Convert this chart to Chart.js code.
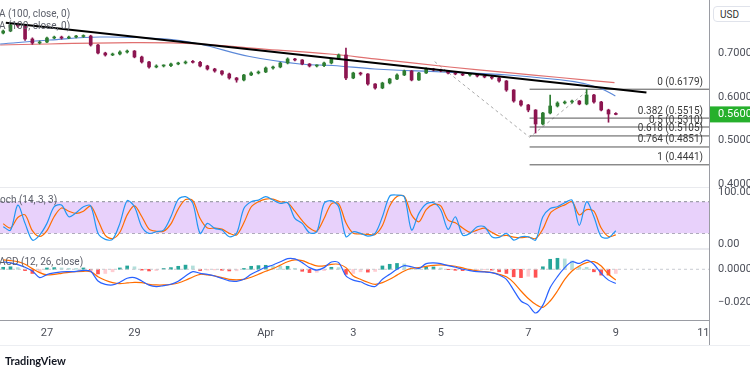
<!DOCTYPE html>
<html>
<head>
<meta charset="utf-8">
<script src="https://cdn.jsdelivr.net/npm/chart.js@4.4.1/dist/chart.umd.min.js"></script>
<style>
  html, body { margin: 0; padding: 0; background: #fff; overflow: hidden; }
  body { width: 750px; height: 375px; position: relative; font-family: Roboto, sans-serif; }
  #wrap { position: absolute; left: 0; top: 0; width: 765px; height: 375px; }
  .leg { position: absolute; font-size: 10px; line-height: 12px; color: #5d606b; white-space: nowrap; }
  .axl { position: absolute; left: 718px; font-size: 11px; line-height: 13px; color: #4c4f59; white-space: nowrap; }
  #usd { position: absolute; left: 713px; top: 6px; width: 44px; height: 16px; border: 1px solid #e0e3eb;
         border-radius: 4px; font-size: 10px; line-height: 16px; color: #333; padding-left: 6px; box-sizing: border-box; background: #fff; }
  #tv { position: absolute; left: 5px; top: 354px; font-family: Lato, Roboto, sans-serif; font-weight: bold;
        font-size: 11px; color: #131722; white-space: nowrap; }
</style>
</head>
<body>
<div id="wrap"><canvas id="myChart"></canvas></div>
<div class="leg" style="left:-1px; top:8px;">A (100, close, 0)</div>
<div class="leg" style="left:-1px; top:20px;">A (100, close, 0)</div>
<div class="leg" style="left:0px; top:194px;">och (14, 3, 3)</div>
<div class="leg" style="left:-1px; top:256px;">ACD (12, 26, close)</div>
<div class="axl" id="stochTop" style="top:185px;">100.00</div>
<div id="usd">USD</div>
<div id="tv">TradingView</div>
<script>
// price candles, 4h steps starting Mar 26
const firstOpen = 0.7470;
const closes = [
    0.7517, 0.7655, 0.7632, 0.7333, 0.7241, 0.7264, 0.7356, 0.7379, 0.7356, 0.7379,
    0.7391, 0.7402, 0.7195, 0.7011, 0.6966, 0.6989, 0.7034, 0.7057, 0.6920, 0.6805,
    0.6690, 0.6713, 0.6720, 0.6759, 0.6782, 0.6805, 0.6798, 0.6713, 0.6644, 0.6598,
    0.6529, 0.6437, 0.6391, 0.6506, 0.6552, 0.6575, 0.6667, 0.6690, 0.6782, 0.6874,
    0.6851, 0.6759, 0.6713, 0.6720, 0.6782, 0.6874, 0.6966, 0.6437, 0.6552, 0.6529,
    0.6299, 0.6207, 0.6322, 0.6414, 0.6506, 0.6598, 0.6391, 0.6552, 0.6644, 0.6621,
    0.6598, 0.6552, 0.6529, 0.6506, 0.6512, 0.6483, 0.6460, 0.6437, 0.6368, 0.6161,
    0.5908, 0.5816, 0.5701, 0.5379, 0.5632, 0.5793, 0.5862, 0.5885, 0.5908, 0.5839,
    0.6046, 0.5885, 0.5701, 0.5609, 0.5600
];
const highs = [
    0.7540, 0.7690, 0.7700, 0.7650, 0.7360, 0.7290, 0.7380, 0.7400, 0.7400, 0.7400,
    0.7420, 0.7430, 0.7420, 0.7210, 0.7030, 0.7010, 0.7060, 0.7080, 0.7070, 0.6940,
    0.6820, 0.6740, 0.6740, 0.6780, 0.6800, 0.6830, 0.6840, 0.6820, 0.6730, 0.6660,
    0.6610, 0.6550, 0.6450, 0.6520, 0.6580, 0.6600, 0.6690, 0.6710, 0.6800, 0.6900,
    0.6890, 0.6860, 0.6770, 0.6740, 0.6800, 0.6890, 0.6990, 0.7126, 0.6570, 0.6570,
    0.6540, 0.6310, 0.6340, 0.6430, 0.6530, 0.6620, 0.6610, 0.6570, 0.6670, 0.6660,
    0.6640, 0.6610, 0.6570, 0.6550, 0.6530, 0.6520, 0.6500, 0.6480, 0.6450, 0.6380,
    0.6170, 0.5930, 0.5830, 0.5710, 0.5650, 0.6046, 0.5890, 0.5910, 0.5930, 0.5920,
    0.6179, 0.6060, 0.5900, 0.5720, 0.5640
];
const lows = [
    0.7450, 0.7500, 0.7600, 0.7300, 0.7210, 0.7220, 0.7250, 0.7340, 0.7330, 0.7340,
    0.7360, 0.7370, 0.7170, 0.6990, 0.6940, 0.6950, 0.6970, 0.7010, 0.6900, 0.6780,
    0.6660, 0.6670, 0.6690, 0.6700, 0.6740, 0.6760, 0.6780, 0.6690, 0.6620, 0.6570,
    0.6500, 0.6410, 0.6340, 0.6370, 0.6490, 0.6530, 0.6560, 0.6640, 0.6670, 0.6760,
    0.6830, 0.6740, 0.6690, 0.6690, 0.6700, 0.6760, 0.6860, 0.6400, 0.6420, 0.6500,
    0.6270, 0.6180, 0.6190, 0.6300, 0.6400, 0.6490, 0.6370, 0.6380, 0.6540, 0.6600,
    0.6580, 0.6530, 0.6510, 0.6490, 0.6480, 0.6460, 0.6440, 0.6410, 0.6340, 0.6130,
    0.5880, 0.5790, 0.5660, 0.5172, 0.5360, 0.5610, 0.5770, 0.5840, 0.5860, 0.5820,
    0.5820, 0.5860, 0.5680, 0.5420, 0.5590
];

// moving averages (days since Mar 26)
const ma100Days = [-0.07, 1.07, 2.21, 3.74, 4.49, 5.63, 6.78, 7.53, 8.49, 10.02, 11.53, 13.05, 13.63, 13.99];
const ma100 = [0.7218, 0.7310, 0.7379, 0.7333, 0.7218, 0.6931, 0.6759, 0.6724, 0.6644, 0.6575, 0.6506, 0.6352, 0.6207, 0.6023];
const ma200Days = [-0.07, 2.96, 4.49, 6.02, 7.46, 8.49, 10.2, 11.53, 12.71, 13.97];
const ma200 = [0.7195, 0.7248, 0.7218, 0.7096, 0.6989, 0.6878, 0.6690, 0.6561, 0.6448, 0.6329];

// drawings
const trendDays = [0.06, 14.70];
const trendPrices = [0.7708, 0.6103];
const fibPivotDays = [9.86, 12.03, 13.40];
const fibPivotPrices = [0.6813, 0.5075, 0.6179];
const fibRatios = [0, 0.382, 0.5, 0.618, 0.764, 1];
const fibPrices = [0.6179, 0.5515, 0.5310, 0.5105, 0.4851, 0.4441];

// Stoch (14, 3, 3)
const stochK = [
    32.5, 26, 73.6, 38.9, 7.2, 16.7, 38.9, 70.5, 73.6, 51.5,
    59.1, 70.5, 72, 20, 8.5, 8.5, 38.9, 81.9, 70.5, 32.5,
    19.9, 23, 26.2, 51.5, 84.4, 89.5, 76.8, 19.9, 38.9, 29.4,
    26.2, 13.6, 19.9, 67.3, 80, 83.1, 89.5, 83.1, 76.8, 78,
    48.3, 38.9, 21.1, 23, 76.8, 81.9, 70.5, 13.6, 23, 19.9,
    14.8, 19.9, 51.5, 90.7, 92.6, 89.5, 26.2, 57.8, 75.5, 78,
    64.2, 27.5, 51.5, 16.7, 19.9, 32.5, 32.5, 13.6, 12.3, 19.9,
    7.2, 13.6, 13.6, 7.2, 51.5, 67.3, 70.5, 78, 83.1, 35,
    80, 51.5, 13.6, 11.7, 25
];
const stochD = [
    38, 30, 50, 55, 25, 14, 25, 52, 68, 62,
    58, 62, 72, 45, 16, 10, 22, 55, 72, 52,
    28, 24, 24, 38, 66, 84, 82, 48, 30, 30,
    28, 20, 17, 40, 70, 80, 85, 85, 80, 78,
    62, 44, 30, 24, 48, 76, 76, 40, 20, 19,
    18, 18, 35, 72, 90, 90, 55, 42, 65, 75,
    72, 45, 40, 30, 22, 26, 30, 22, 15, 16,
    13, 12, 13, 10, 28, 58, 68, 74, 80, 55,
    65, 62, 30, 14, 17
];
const stochBand = [80, 20];

// MACD (12, 26, close)
const macdLine = [
    0.0045, 0.0038, 0.0028, 0.0012, -0.0010, -0.0050, -0.0032, -0.0022, -0.0016, -0.0014,
    -0.0012, -0.0006, -0.0012, -0.0070, -0.0090, -0.0094, -0.0078, -0.0054, -0.0050, -0.0070,
    -0.0095, -0.0104, -0.0098, -0.0090, -0.0072, -0.0040, -0.0014, -0.0024, -0.0030, -0.0040,
    -0.0055, -0.0070, -0.0072, -0.0060, -0.0030, -0.0008, 0.0012, 0.0026, 0.0045, 0.0064,
    0.0062, 0.0040, 0.0010, -0.0005, 0.0010, 0.0044, 0.0040, -0.0040, -0.0065, -0.0075,
    -0.0095, -0.0103, -0.0060, -0.0030, 0.0000, 0.0022, 0.0015, 0.0005, 0.0034, 0.0038,
    0.0034, 0.0022, 0.0012, 0.0000, -0.0008, -0.0014, -0.0016, -0.0020, -0.0034, -0.0060,
    -0.0125, -0.0190, -0.0215, -0.0262, -0.0215, -0.0110, -0.0044, 0.0010, 0.0045, 0.0035,
    0.0055, 0.0030, -0.0025, -0.0065, -0.0085
];
const macdSignal = [
    0.0056, 0.0052, 0.0046, 0.0030, 0.0004, -0.0020, -0.0034, -0.0030, -0.0024, -0.0018,
    -0.0014, -0.0012, -0.0014, -0.0045, -0.0066, -0.0080, -0.0086, -0.0082, -0.0078, -0.0080,
    -0.0090, -0.0094, -0.0094, -0.0090, -0.0082, -0.0066, -0.0046, -0.0030, -0.0034, -0.0040,
    -0.0050, -0.0060, -0.0063, -0.0060, -0.0048, -0.0030, -0.0012, 0.0005, 0.0025, 0.0045,
    0.0056, 0.0052, 0.0035, 0.0020, 0.0020, 0.0030, 0.0030, 0.0010, -0.0040, -0.0060,
    -0.0078, -0.0090, -0.0080, -0.0060, -0.0035, -0.0010, 0.0006, 0.0010, 0.0018, 0.0024,
    0.0026, 0.0024, 0.0018, 0.0008, -0.0002, -0.0010, -0.0014, -0.0020, -0.0030, -0.0045,
    -0.0080, -0.0130, -0.0175, -0.0210, -0.0228, -0.0190, -0.0130, -0.0060, -0.0010, 0.0020,
    0.0040, 0.0046, 0.0020, -0.0030, -0.0064
];
const macdHist = [
    0.0012, 0.0015, 0.0010, -0.0008, -0.0025, -0.0020, 0.0008, 0.0010, 0.0008, 0.0006,
    0.0005, 0.0008, -0.0005, -0.0028, -0.0025, -0.0015, 0.0008, 0.0020, 0.0015, -0.0005,
    -0.0010, -0.0008, 0.0005, 0.0010, 0.0018, 0.0025, 0.0020, -0.0008, -0.0005, -0.0004,
    -0.0006, -0.0010, -0.0009, 0.0005, 0.0018, 0.0022, 0.0024, 0.0020, 0.0018, 0.0018,
    0.0006, -0.0012, -0.0020, -0.0018, -0.0008, 0.0012, 0.0010, -0.0030, -0.0025, -0.0015,
    -0.0017, -0.0013, 0.0020, 0.0030, 0.0035, 0.0032, 0.0009, 0.0006, 0.0014, 0.0014,
    0.0008, -0.0002, -0.0006, -0.0008, -0.0006, -0.0004, -0.0002, -0.0005, -0.0015, -0.0025,
    -0.0045, -0.0050, -0.0042, -0.0048, 0.0015, 0.0060, 0.0066, 0.0062, 0.0050, 0.0015,
    0.0012, -0.0015, -0.0035, -0.0035, -0.0025
];

// axis ticks
const dayTicks = [1, 3, 6, 8, 10, 12, 14, 16];
const dayLabels = ["27", "29", "Apr", "3", "5", "7", "9", "11"];
const priceTicks = [0.7, 0.6, 0.5, 0.4];
const stochTicks = [0, 100];
const macdTicks = [-0.02, 0];

const X_MIN = -0.073, X_MAX = 16.13;
const candleDays = closes.map((_, i) => i / 6);
const opens = closes.map((c, i) => (i === 0 ? firstOpen : closes[i - 1]));
const UP = "#2e7d32", DOWN = "#8c1550";
const candleColors = closes.map((c, i) => (c >= opens[i] ? UP : DOWN));
const histColors = macdHist.map((h, i) => {
    const prev = i ? macdHist[i - 1] : 0;
    if (h >= 0) return h >= prev ? "#26a69a" : "#b2dfdb";
    return h <= prev ? "#ff5252" : "#ffcdd2";
});

const pts = (xs, ys) => xs.map((x, i) => ({ x: x, y: ys[i] }));
const flat = (y) => [{ x: X_MIN, y: y }, { x: X_MAX, y: y }];
const STOCH_TOP = stochTicks[stochTicks.length - 1];

Chart.defaults.font.family = "Roboto, sans-serif";
Chart.defaults.font.size = 11;
Chart.defaults.color = "#4c4f59";

const datasets = [
    { type: "line", data: pts(trendDays, trendPrices), yAxisID: "price", borderColor: "#000", borderWidth: 2 },
    { type: "bar", data: candleDays.map((d, i) => ({ x: d, y: [opens[i], closes[i]] })), yAxisID: "price",
      backgroundColor: candleColors, barThickness: 3, grouped: false, minBarLength: 1 },
    { type: "bar", data: candleDays.map((d, i) => ({ x: d, y: [lows[i], highs[i]] })), yAxisID: "price",
      backgroundColor: candleColors, barThickness: 1, grouped: false },
    { type: "line", data: pts(ma100Days, ma100), yAxisID: "price", borderColor: "#5b88d8", borderWidth: 1.2, tension: 0.4 },
    { type: "line", data: pts(ma200Days, ma200), yAxisID: "price", borderColor: "#e07070", borderWidth: 1.2, tension: 0.4 },
    ...fibPrices.map((p) => ({ type: "line", data: [{ x: fibPivotDays[1], y: p }, { x: X_MAX, y: p }], yAxisID: "price",
      borderColor: "#555", borderWidth: 1 })),
    { type: "line", data: pts(fibPivotDays, fibPivotPrices), yAxisID: "price", borderColor: "#aaa", borderWidth: 1,
      borderDash: [3, 3] },
    { type: "line", data: pts(candleDays, macdLine), yAxisID: "macd", borderColor: "#2962ff", borderWidth: 1.2, tension: 0.3 },
    { type: "line", data: pts(candleDays, macdSignal), yAxisID: "macd", borderColor: "#ff6d00", borderWidth: 1.2, tension: 0.3 },
    { type: "line", data: flat(0), yAxisID: "macd", borderColor: "#c9cbd1", borderWidth: 1, borderDash: [3, 3] },
    { type: "bar", data: pts(candleDays, macdHist), yAxisID: "macd", backgroundColor: histColors, barThickness: 3, grouped: false },
    { type: "line", data: pts(candleDays, stochK), yAxisID: "stoch", borderColor: "#2196f3", borderWidth: 1.2, tension: 0.3 },
    { type: "line", data: pts(candleDays, stochD), yAxisID: "stoch", borderColor: "#ff6d00", borderWidth: 1.2, tension: 0.3 },
    { type: "line", data: flat(stochBand[0]), yAxisID: "stoch", borderColor: "#8a8d96", borderWidth: 1, borderDash: [3, 3],
      fill: "+1", backgroundColor: "#e8d1fb" },
    { type: "line", data: flat(stochBand[1]), yAxisID: "stoch", borderColor: "#8a8d96", borderWidth: 1, borderDash: [3, 3] },
];

const fixedTicks = (values) => (scale) => { scale.ticks = values.map((v) => ({ value: v })); };
const yAxis = (weight, min, max, values, fmt) => ({
    type: "linear", position: "right", stack: "panes", stackWeight: weight, min: min, max: max,
    afterBuildTicks: fixedTicks(values),
    afterFit: (s) => { s.width = 56; s.paddingTop = 0; s.paddingBottom = 0; },
    grid: { display: false, drawTicks: false }, border: { display: false },
    ticks: { padding: 9, autoSkip: false, callback: fmt },
});

const overlay = {
    id: "overlay",
    afterDraw(chart) {
        const ctx = chart.ctx, area = chart.chartArea, s = chart.scales;
        ctx.save();
        // fib level labels
        ctx.font = "10px Roboto, sans-serif";
        ctx.fillStyle = "#3a3a3a";
        ctx.textAlign = "right";
        ctx.textBaseline = "bottom";
        fibRatios.forEach((r, i) => {
            const y = s.price.getPixelForValue(fibPrices[i]);
            ctx.fillText(r + " (" + fibPrices[i].toFixed(4) + ")", area.right - 6, y - 2);
        });
        // keep the html "100.00" label on the stoch scale position
        const tag = document.getElementById("stochTop");
        tag.textContent = STOCH_TOP.toFixed(2);
        tag.style.top = Math.round(s.stoch.getPixelForValue(STOCH_TOP) - 6.5) + "px";
        tag.style.left = Math.round(area.right + 9) + "px";
        // pane separators
        ctx.fillStyle = "#e9eaee";
        ctx.fillRect(0, s.stoch.top - 1, area.right, 1);
        ctx.fillRect(0, s.macd.top - 1, area.right, 2);
        // frame
        ctx.fillStyle = "#9a9ca3";
        ctx.fillRect(0, area.bottom, area.right, 1);
        ctx.fillRect(area.right, 0, 1, s.x.bottom);
        ctx.fillStyle = "#eceef2";
        ctx.fillRect(0, s.x.bottom, 750, 1);
        // last price tag
        const last = closes[closes.length - 1];
        const py = s.price.getPixelForValue(last);
        ctx.fillStyle = "#26b02c";
        ctx.fillRect(area.right + 1, py - 8, 60, 16);
        ctx.fillStyle = "#fff";
        ctx.font = "11px Roboto, sans-serif";
        ctx.textAlign = "left";
        ctx.textBaseline = "middle";
        ctx.fillText(last.toFixed(4), area.right + 9, py);
        ctx.restore();
    },
};

new Chart(document.getElementById("myChart"), {
    type: "line",
    data: { datasets: datasets },
    options: {
        responsive: true,
        maintainAspectRatio: false,
        animation: false,
        layout: { padding: { left: 0, right: 0, top: 0, bottom: 30 } },
        elements: { point: { radius: 0 } },
        plugins: { legend: { display: false }, tooltip: { enabled: false } },
        scales: {
            x: {
                type: "linear", min: X_MIN, max: X_MAX, offset: false,
                afterBuildTicks: fixedTicks(dayTicks),
                afterFit: (s) => { s.height = 25; s.paddingLeft = 0; s.paddingRight = 0; },
                grid: { display: false, drawTicks: false }, border: { display: false },
                ticks: { padding: 7, maxRotation: 0, autoSkip: false,
                    callback: (v) => dayLabels[dayTicks.indexOf(v)] },
            },
            price: yAxis(188, 0.3908, 0.823, priceTicks, (v) => v.toFixed(4)),
            stoch: yAxis(61, -9.7, 106, stochTicks, (v) => (v === STOCH_TOP ? "" : v.toFixed(2))),
            macd: yAxis(71, -0.0304, 0.01216, macdTicks, (v) => v.toFixed(4).replace("-", "\u2212")),
        },
    },
    plugins: [overlay],
});
</script>
</body>
</html>
